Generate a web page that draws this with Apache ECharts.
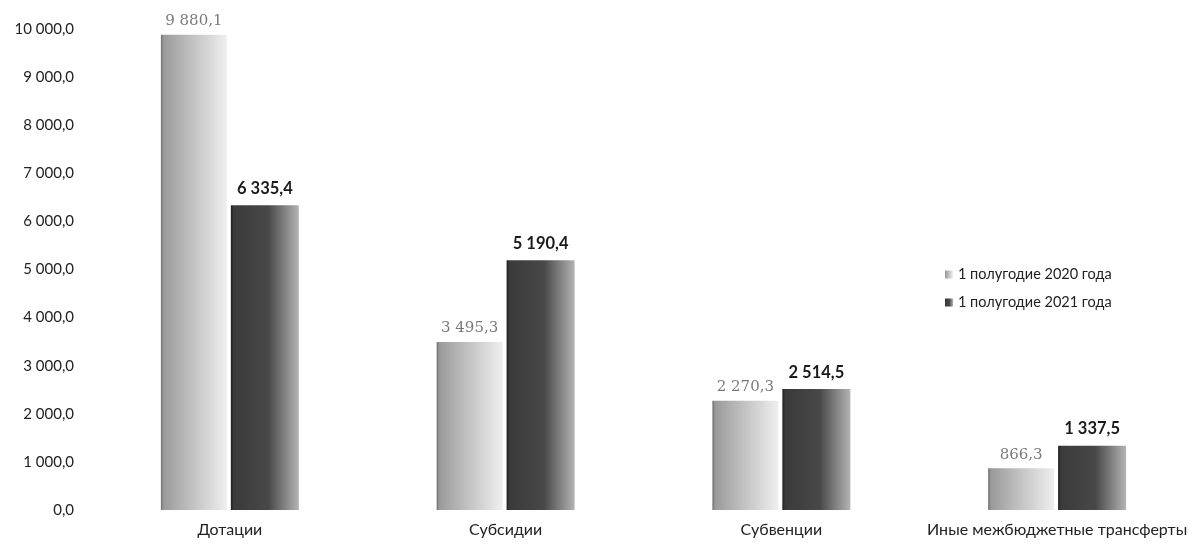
<!DOCTYPE html>
<html><head><meta charset="utf-8">
<script src="https://cdn.jsdelivr.net/npm/echarts@6/dist/echarts.min.js"></script>
<style>html,body{margin:0;padding:0;background:#fff}#c{width:1195px;height:544px}</style>
</head><body><div id="c"></div>
<script>
const categories = ['Дотации', 'Субсидии', 'Субвенции', 'Иные межбюджетные трансферты'];
const seriesNames = ['1 полугодие 2020 года', '1 полугодие 2021 года'];
const values2020 = [9880.1, 3495.3, 2270.3, 866.3];
const values2021 = [6335.4, 5190.4, 2514.5, 1337.5];
const yTicks = [0, 1000, 2000, 3000, 4000, 5000, 6000, 7000, 8000, 9000, 10000];

function fmt(v) {
  const s = v.toFixed(1).split('.');
  return s[0].replace(/\B(?=(\d{3})+(?!\d))/g, ' ') + ',' + s[1];
}
const grad1 = new echarts.graphic.LinearGradient(0, 0, 1, 0, [
  {offset: 0, color: '#6e6e6e'}, {offset: 0.04, color: '#9a9a9a'},
  {offset: 0.5, color: '#c4c4c4'}, {offset: 1, color: '#efefef'}]);
const grad2 = new echarts.graphic.LinearGradient(0, 0, 1, 0, [
  {offset: 0, color: '#1e1e1e'}, {offset: 0.04, color: '#3a3a3a'},
  {offset: 0.55, color: '#484848'}, {offset: 1, color: '#b4b4b4'}]);

const chart = echarts.init(document.getElementById('c'), null, {renderer: 'canvas'});
chart.setOption({
  animation: false,
  backgroundColor: '#fff',
  textStyle: {fontFamily: 'Lato, "Noto Sans", sans-serif'},
  grid: {left: 92, right: -3, top: 29, bottom: 34, containLabel: false},
  legend: {
    orient: 'vertical', left: 940, top: 262, itemWidth: 8, itemHeight: 8, itemGap: 13,
    icon: 'rect',
    textStyle: {fontSize: 14.5, color: '#222', fontFamily: 'Lato, sans-serif'},
    data: seriesNames
  },
  xAxis: {
    type: 'category', data: categories,
    axisLine: {show: false}, axisTick: {show: false},
    axisLabel: {fontSize: 16, color: '#222', margin: 12, interval: 0}
  },
  yAxis: {
    type: 'value', min: yTicks[0], max: yTicks[yTicks.length - 1], interval: 1000,
    splitLine: {show: false}, axisLine: {show: false}, axisTick: {show: false},
    axisLabel: {fontSize: 15, color: '#222', margin: 18, formatter: fmt}
  },
  series: [
    {
      name: seriesNames[0], type: 'bar', data: values2020, barWidth: 66, barGap: '6%',
      itemStyle: {color: grad1},
      label: {show: true, position: 'top', distance: 6, fontSize: 15, color: '#7a7a7a',
              fontFamily: '"DejaVu Serif", serif', formatter: p => fmt(p.value)}
    },
    {
      name: seriesNames[1], type: 'bar', data: values2021, barWidth: 68,
      itemStyle: {color: grad2},
      label: {show: true, position: 'top', distance: 8, fontSize: 16.5, fontWeight: 'bold', color: '#1a1a1a',
              formatter: p => fmt(p.value)}
    }
  ]
});
</script></body></html>
